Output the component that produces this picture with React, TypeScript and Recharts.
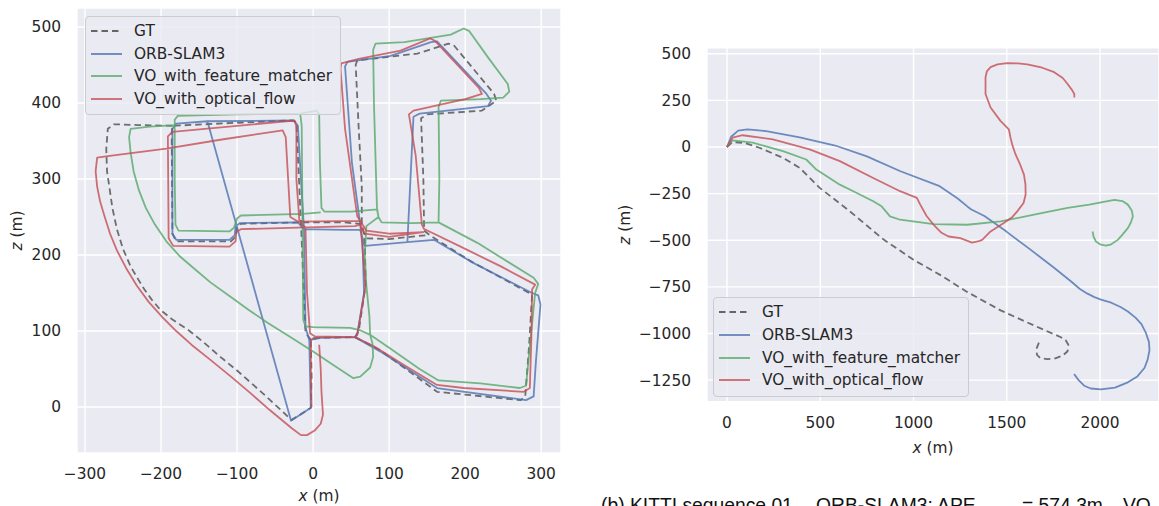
import { LineChart, Line, XAxis, YAxis, CartesianGrid, Legend, Label } from "recharts";

// Trajectories as [x, z] pairs in metres. A null splits a trajectory into separate strokes.
type Pair = [number, number] | null;

// ---- KITTI 00 ----
const seq00Gt: Pair[] = [
  [-185, 370], [-230, 371], [-262, 372], [-270, 366], [-272, 340], [-271, 310], [-268, 290],
  [-264, 262], [-258, 234], [-250, 208], [-240, 185], [-230, 168], [-222, 155], [-212, 141],
  [-201, 128], [-185, 115], [-165, 102], [-145, 86], [-122, 66], [-100, 48], [-82, 32],
  [-65, 17], [-50, 3], [-40, -6], [-29, -17], [-20, -12], [-3, -1], [-2, 40], [-3, 88],
  [5, 91], [55, 92], [88, 75], [163, 20], [273, 9], [279, 14], [284, 80], [288, 148],
  [207, 192], [155, 225], [146, 232], [145, 300], [142, 380], [150, 385], [222, 390],
  [241, 403], [238, 412], [185, 476], [178, 478], [137, 465], [58, 456], [56, 450], [60, 366],
  [64, 290], [64, 243], [68, 220], [69, 160], [60, 100], [55, 92],
  null,
  [-3, 88], [-10, 98], [-13, 170], [-16, 243], [-20, 330], [-22, 375], [-28, 377],
  [-100, 374], [-185, 370], [-186, 360], [-185, 228], [-180, 218], [-108, 218], [-102, 224],
  [-100, 236], [-95, 241], [-16, 243], [40, 243], [62, 241], [70, 222], [100, 221], [148, 226],
];

const seq00Orb: Pair[] = [
  [-139, 376], [-29, -18], [-3, -1], [-4, 40], [-5, 88], [10, 91], [55, 92], [90, 72],
  [163, 25], [280, 9], [290, 14], [293, 60], [299, 135], [296, 147], [288, 150], [210, 190],
  [159, 220], [124, 217], [132, 382], [140, 386], [230, 396], [234, 403], [228, 412],
  [163, 481], [155, 480], [102, 462], [45, 454], [42, 448], [51, 322], [62, 240], [65, 215],
  [67, 150], [58, 95], [55, 92],
  null,
  [-5, 88], [-10, 105], [-12, 234], [-16, 300], [-20, 370], [-25, 377], [-139, 376],
  [-180, 373], [-185, 366], [-185, 228], [-180, 220], [-110, 220], [-103, 226], [-102, 238],
  [-96, 242], [-20, 243], [-12, 234], [40, 233], [62, 233], [68, 212], [124, 217],
];

const seq00Matcher: Pair[] = [
  [-182, 371], [-215, 369], [-240, 366], [-242, 355], [-240, 335], [-236, 310], [-229, 285],
  [-220, 262], [-208, 240], [-193, 218], [-175, 198], [-155, 181], [-135, 164], [-110, 146],
  [-85, 128], [-60, 111], [-30, 92], [0, 73], [27, 55], [53, 38], [62, 40], [75, 52],
  [79, 66], [78, 84], [75, 95], [62, 101], [49, 104], [0, 105], [-10, 106], [-13, 115],
  [-14, 250], [-15, 370], [-17, 386], [-100, 385], [-178, 383], [-182, 378], [-182, 300],
  [-181, 240], [-177, 232], [-110, 231], [-104, 236], [-100, 248], [-95, 252], [-13, 254],
  [10, 256],
  null,
  [-17, 386], [5, 390], [8, 385], [9, 320], [11, 262], [15, 257], [50, 257], [84, 260],
  [86, 250], [70, 238], [68, 200], [70, 160], [74, 120], [75, 95], [100, 78], [140, 50],
  [165, 35], [220, 31], [272, 25], [280, 28], [285, 80], [292, 150], [296, 162], [290, 170],
  [216, 216], [165, 243], [166, 300], [165, 395], [168, 403], [220, 405], [250, 407],
  [258, 415], [256, 425], [230, 460], [205, 495], [198, 498], [181, 490], [120, 480],
  [82, 478], [79, 470], [80, 400], [82, 330], [84, 262], [86, 250], [90, 243], [130, 242],
  [165, 243],
];

const seq00Flow: Pair[] = [
  [-2, 0], [-3, 50], [-3, 88], [2, 92], [55, 92], [80, 80], [120, 55], [163, 29], [198, 25],
  [277, 20], [285, 25], [287, 90], [288, 155], [292, 161], [247, 185], [200, 208], [155, 230],
  [146, 234], [143, 240], [135, 330], [126, 385], [132, 390], [200, 405], [222, 412],
  [218, 420], [160, 482], [154, 485], [115, 469], [60, 458], [37, 452], [36, 445], [42, 366],
  [58, 251], [62, 245], [69, 159], [58, 95], [55, 92], [2, 93], [-4, 97], [-8, 150],
  [-10, 236], [-18, 244], [-22, 300], [-22, 370], [-25, 377], [-100, 370], [-185, 362],
  [-191, 356], [-190, 222], [-184, 212], [-110, 211], [-102, 218], [-101, 230], [-95, 234],
  [-20, 236], [55, 238], [62, 240], [68, 228], [100, 224], [145, 230], [100, 228], [70, 232],
  [62, 245], [-20, 244], [-30, 250], [-36, 355], [-40, 364], [-120, 352], [-193, 340],
  [-270, 330], [-284, 328], [-286, 310], [-284, 290], [-280, 270], [-274, 250], [-267, 228],
  [-258, 206], [-246, 183], [-232, 160], [-216, 138], [-198, 118], [-180, 100], [-160, 82],
  [-135, 62], [-108, 40], [-82, 18], [-57, -4], [-40, -18], [-28, -28], [-16, -37],
  [-8, -37], [2, -31], [10, -22], [13, -10], [11, 20], [10, 50], [8, 82],
];

// ---- KITTI 01 ----
const seq01Gt: Pair[] = [
  [0, 0], [30, 27], [100, 20], [174, -4], [300, -58], [390, -112], [497, -219], [659, -345],
  [838, -495], [1000, -605], [1150, -690], [1287, -777], [1467, -876], [1646, -957],
  [1790, -1020], [1815, -1035], [1830, -1060], [1826, -1095], [1799, -1119], [1760, -1133],
  [1718, -1137], [1680, -1132], [1662, -1115], [1658, -1085], [1673, -1047],
];

const seq01Orb: Pair[] = [
  [0, 0], [22, 55], [60, 88], [110, 95], [210, 85], [390, 52], [580, 8], [750, -50],
  [930, -130], [1140, -210], [1235, -275], [1290, -320], [1310, -335], [1380, -370],
  [1500, -455], [1620, -545], [1750, -645], [1850, -725], [1890, -760], [1930, -785],
  [1970, -805], [2005, -818], [2060, -835], [2110, -858], [2149, -882], [2190, -915],
  [2222, -950], [2245, -995], [2262, -1045], [2265, -1090], [2255, -1140], [2238, -1185],
  [2200, -1230], [2149, -1262], [2080, -1290], [2005, -1300], [1950, -1295], [1915, -1280],
  [1885, -1250], [1861, -1218],
];

const seq01Matcher: Pair[] = [
  [0, 0], [30, 36], [138, 23], [300, -22], [425, -67], [479, -121], [605, -202], [677, -237],
  [784, -291], [829, -318], [874, -372], [928, -390], [1108, -414], [1287, -417],
  [1467, -399], [1646, -363], [1826, -327], [1942, -309], [2077, -284], [2120, -290],
  [2149, -309], [2170, -340], [2176, -372], [2165, -405], [2149, -435], [2120, -470],
  [2095, -498], [2060, -522], [2032, -529], [2000, -522], [1978, -507], [1965, -480],
  [1960, -453],
];

const seq01Flow: Pair[] = [
  [0, 0], [30, 50], [84, 63], [246, 41], [443, -13], [605, -76], [784, -166], [928, -237],
  [1018, -273], [1036, -309], [1070, -370], [1108, -417], [1150, -460], [1188, -480],
  [1251, -489], [1314, -513], [1350, -505], [1368, -498], [1413, -453], [1484, -408],
  [1530, -375], [1556, -345], [1590, -300], [1601, -255], [1600, -200], [1592, -148],
  [1570, -90], [1547, -40], [1530, 10], [1520, 50], [1511, 95], [1466, 140], [1413, 212],
  [1386, 284], [1386, 374], [1393, 405], [1413, 428], [1450, 443], [1502, 450], [1560, 448],
  [1610, 443], [1690, 425], [1754, 401], [1800, 370], [1826, 338], [1850, 305], [1862, 284],
  [1862, 266],
];

const seq00XTicks = [-300, -200, -100, 0, 100, 200, 300];
const seq00ZTicks = [0, 100, 200, 300, 400, 500];
const seq01XTicks = [0, 500, 1000, 1500, 2000];
const seq01ZTicks = [500, 250, 0, -250, -500, -750, -1000, -1250];

const methods = [
  { name: "GT", color: "#4d4d4d", dash: "6.5 4" },
  { name: "ORB-SLAM3", color: "#4C72B0" },
  { name: "VO_with_feature_matcher", color: "#55A868" },
  { name: "VO_with_optical_flow", color: "#C44E52" },
];

const toPoints = (pairs: Pair[]) =>
  pairs.map((p) => (p === null ? { x: 0, z: null } : { x: p[0], z: p[1] }));

const minus = (v: number) => String(v).replace("-", "\u2212");

const FONT = "DejaVu Sans";
const TEXT = "#262626";

const LegendBox = () => (
  <div
    style={{
      boxSizing: "border-box",
      width: 256,
      padding: "3px 0 4px 5px",
      background: "rgba(234,234,242,0.8)",
      border: "1px solid #cccccc",
      borderRadius: 4,
      fontFamily: FONT,
      fontSize: 15.4,
      color: TEXT,
    }}
  >
    {methods.map((m) => (
      <div key={m.name} style={{ display: "flex", alignItems: "center", height: 22.7 }}>
        <svg width={31} height={4} style={{ flex: "none" }}>
          <line x1={0} y1={2} x2={31} y2={2} stroke={m.color} strokeOpacity={0.85} strokeWidth={1.8} strokeDasharray={m.dash} />
        </svg>
        <span style={{ marginLeft: 12, whiteSpace: "nowrap" }}>{m.name}</span>
      </div>
    ))}
  </div>
);

interface PlotProps {
  left: number;
  width: number;
  top: number;
  yAxisWidth: number;
  xAxisHeight: number;
  xDomain: [number, number];
  zDomain: [number, number];
  xTicks: number[];
  zTicks: number[];
  xTitleDrop: number;
  zTitleGap: number;
  legendAt: { left: number; top: number };
  series: Pair[][];
}

const TrajectoryPlot = (p: PlotProps) => (
  <div style={{ position: "absolute", left: p.left, top: 0 }}>
    <LineChart width={p.width} height={506} margin={{ top: p.top, right: 0, bottom: 0, left: 0 }}>
      <CartesianGrid fill="#EAEAF2" fillOpacity={1} stroke="#ffffff" strokeWidth={1.4} />
      <XAxis
        type="number"
        dataKey="x"
        domain={p.xDomain}
        ticks={p.xTicks}
        interval={0}
        allowDataOverflow
        axisLine={false}
        tickLine={false}
        tickSize={0}
        tickMargin={15}
        height={p.xAxisHeight}
        tickFormatter={minus}
        tick={{ fontFamily: FONT, fontSize: 15.4, fill: TEXT }}
      >
        <Label
          content={({ viewBox }: any) => (
            <text
              x={viewBox.x + viewBox.width / 2}
              y={viewBox.y + p.xTitleDrop}
              textAnchor="middle"
              fontFamily={FONT}
              fontSize={15.4}
              fill={TEXT}
            >
              <tspan fontStyle="italic">x</tspan> (m)
            </text>
          )}
        />
      </XAxis>
      <YAxis
        type="number"
        dataKey="z"
        domain={p.zDomain}
        ticks={p.zTicks}
        interval={0}
        allowDataOverflow
        axisLine={false}
        tickLine={false}
        tickSize={0}
        tickMargin={16}
        width={p.yAxisWidth}
        tickFormatter={minus}
        tick={{ fontFamily: FONT, fontSize: 15.4, fill: TEXT }}
      >
        <Label
          content={({ viewBox }: any) => {
            const cx = viewBox.x + viewBox.width - p.zTitleGap;
            const cy = viewBox.y + viewBox.height / 2;
            return (
              <text
                x={cx}
                y={cy}
                transform={`rotate(-90, ${cx}, ${cy})`}
                textAnchor="middle"
                dominantBaseline="central"
                fontFamily={FONT}
                fontSize={15.4}
                fill={TEXT}
              >
                <tspan fontStyle="italic">z</tspan> (m)
              </text>
            );
          }}
        />
      </YAxis>
      {methods.map((m, i) => (
        <Line
          key={m.name}
          name={m.name}
          data={toPoints(p.series[i])}
          dataKey="z"
          type="linear"
          stroke={m.color}
          strokeOpacity={0.8}
          strokeWidth={1.8}
          strokeDasharray={m.dash}
          strokeLinejoin="round"
          dot={false}
          activeDot={false}
          connectNulls={false}
          isAnimationActive={false}
        />
      ))}
      <Legend
        layout="vertical"
        verticalAlign="middle"
        align="center"
        content={() => <LegendBox />}
        wrapperStyle={{ left: p.legendAt.left, top: p.legendAt.top, width: "auto" }}
      />
    </LineChart>
  </div>
);

export default function App() {
  return (
    <div style={{ position: "absolute", left: 0, top: 0, width: 1159, height: 506, overflow: "hidden", background: "#fff" }}>
      <TrajectoryPlot
        left={0}
        width={561}
        top={8}
        yAxisWidth={77}
        xAxisHeight={53}
        xDomain={[-310.5, 326]}
        zDomain={[-60.5, 525]}
        xTicks={seq00XTicks}
        zTicks={seq00ZTicks}
        xTitleDrop={48}
        zTitleGap={60}
        legendAt={{ left: 85, top: 15.7 }}
        series={[seq00Gt, seq00Orb, seq00Matcher, seq00Flow]}
      />
      <TrajectoryPlot
        left={580}
        width={579}
        top={47.7}
        yAxisWidth={127}
        xAxisHeight={104.3}
        xDomain={[-107.2, 2316]}
        zDomain={[-1365.7, 532.4]}
        xTicks={seq01XTicks}
        zTicks={seq01ZTicks}
        xTitleDrop={51}
        zTitleGap={82}
        legendAt={{ left: 133, top: 297 }}
        series={[seq01Gt, seq01Orb, seq01Matcher, seq01Flow]}
      />
      <svg style={{ position: "absolute", left: 0, top: 480 }} width={1159} height={26}>
        <g fontFamily="Liberation Sans" fontSize={19.3} fill="#111">
          <text x={601} y={31.5}>(b) KITTI sequence 01.</text>
          <text x={816} y={31.5}>ORB-SLAM3: APE</text>
          <text x={1022} y={31.5}>= 574.3m,</text>
          <text x={1123} y={31.5}>VO_with_feature_matcher: APE</text>
        </g>
      </svg>
    </div>
  );
}
